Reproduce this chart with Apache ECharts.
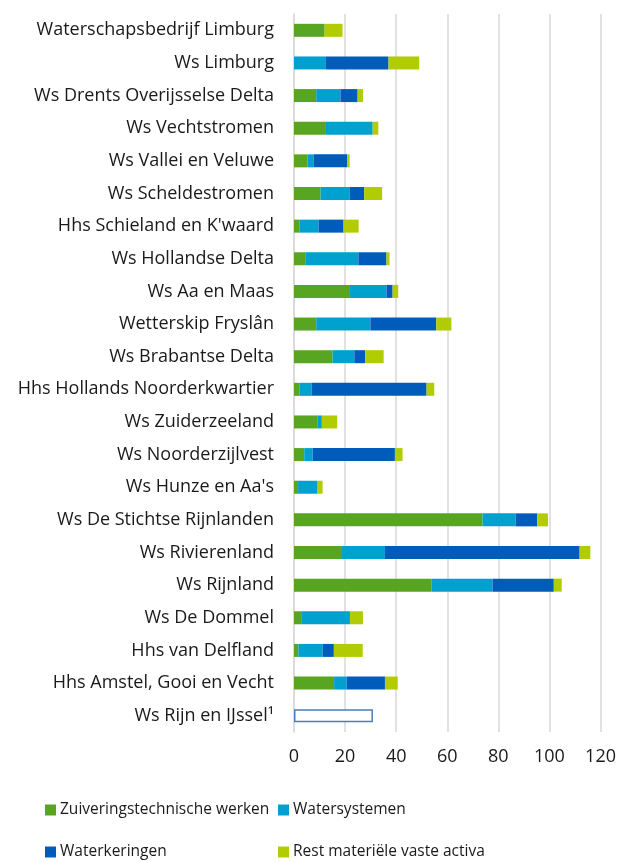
<!DOCTYPE html>
<html>
<head>
<meta charset="utf-8">
<script src="https://cdn.jsdelivr.net/npm/echarts@6/dist/echarts.min.js"></script>
<style>
  html, body { margin: 0; padding: 0; background: #fff; }
  #chart { width: 619px; height: 862px; }
</style>
</head>
<body>
<div id="chart"></div>
<script>
// categorieen van boven naar beneden
var categories = [
  'Waterschapsbedrijf Limburg', 'Ws Limburg', 'Ws Drents Overijsselse Delta',
  'Ws Vechtstromen', 'Ws Vallei en Veluwe', 'Ws Scheldestromen',
  "Hhs Schieland en K'waard", 'Ws Hollandse Delta', 'Ws Aa en Maas',
  'Wetterskip Fryslân', 'Ws Brabantse Delta', 'Hhs Hollands Noorderkwartier',
  'Ws Zuiderzeeland', 'Ws Noorderzijlvest', "Ws Hunze en Aa's",
  'Ws De Stichtse Rijnlanden', 'Ws Rivierenland', 'Ws Rijnland',
  'Ws De Dommel', 'Hhs van Delfland', 'Hhs Amstel, Gooi en Vecht',
  'Ws Rijn en IJssel¹'
];
var zuivering    = [12.0, 0, 8.7, 12.5, 5.3, 10.4, 2.1, 4.4, 21.9, 8.7, 15.1, 2.1, 9.1, 4.0, 1.6, 73.8, 18.8, 53.9, 3.1, 1.7, 15.7, null];
var watersystemen = [0, 12.5, 9.5, 18.3, 2.4, 11.3, 7.5, 20.8, 14.3, 21.2, 8.5, 4.8, 1.8, 3.3, 7.4, 13.0, 16.8, 23.8, 18.8, 9.5, 4.9, null];
var waterkeringen = [0, 24.5, 6.7, 0, 13.1, 5.8, 9.8, 11.0, 2.4, 25.8, 4.3, 45.0, 0, 32.2, 0, 8.4, 76.2, 24.0, 0, 4.4, 15.0, null];
var rest         = [7.0, 12.0, 2.1, 2.2, 1.0, 7.0, 5.9, 1.2, 2.2, 5.9, 7.2, 3.0, 6.0, 3.0, 2.2, 4.2, 4.2, 3.1, 5.1, 11.3, 5.0, null];
// alleen totaal bekend (niet uitgesplitst)
var totaalOnbekend = [null, null, null, null, null, null, null, null, null, null, null, null, null, null, null, null, null, null, null, null, null, 30.9];
var xTicks = [0, 20, 40, 60, 80, 100, 120];
var legendNames = ['Zuiveringstechnische werken', 'Watersystemen', 'Waterkeringen', 'Rest materiële vaste activa'];

var fontName = '"Open Sans", sans-serif';
var kleuren = ['#57a520', '#00a0cf', '#005cba', '#b2cc03'];

var chart = echarts.init(document.getElementById('chart'));

function serie(name, data, color) {
  return {
    name: name,
    type: 'bar',
    stack: 'totaal',
    barWidth: 13,
    data: data,
    itemStyle: { color: color },
    emphasis: { disabled: true }
  };
}

// legenda als 2x2 raster
var legendPos = [[45, 802], [278, 802], [45, 844], [278, 844]];
var legends = legendNames.map(function (n, i) {
  return {
    data: [n],
    left: legendPos[i][0], top: legendPos[i][1],
    padding: 0,
    itemWidth: 11, itemHeight: 11,
    icon: 'rect',
    textStyle: { fontSize: 15.5, color: '#1a1a1a', fontFamily: fontName, padding: [0, 0, 0, -1] }
  };
});

chart.setOption({
  animation: false,
  textStyle: { fontFamily: fontName },
  grid: { left: 294, right: 18, top: 14, bottom: 130 },
  legend: legends,
  xAxis: {
    type: 'value',
    min: xTicks[0],
    max: xTicks[xTicks.length - 1],
    interval: 20,
    axisLine: { show: false },
    axisTick: { show: false },
    splitLine: { lineStyle: { color: '#d9d9d9', width: 1.5 } },
    axisLabel: { fontSize: 18, color: '#1a1a1a', margin: 16, fontFamily: fontName }
  },
  yAxis: {
    type: 'category',
    inverse: true,
    data: categories,
    axisLine: { lineStyle: { color: '#d9d9d9', width: 1.5 } },
    axisTick: { show: false },
    axisLabel: { fontSize: 18, color: '#1a1a1a', margin: 20, interval: 0, fontFamily: fontName }
  },
  series: [
    serie(legendNames[0], zuivering, kleuren[0]),
    serie(legendNames[1], watersystemen, kleuren[1]),
    serie(legendNames[2], waterkeringen, kleuren[2]),
    serie(legendNames[3], rest, kleuren[3]),
    {
      name: 'Totaal',
      type: 'bar',
      stack: 'totaal',
      barWidth: 13,
      data: totaalOnbekend,
      itemStyle: { color: '#ffffff', borderColor: '#4a7ebb', borderWidth: 1.5 },
      emphasis: { disabled: true }
    }
  ]
});
</script>
</body>
</html>
